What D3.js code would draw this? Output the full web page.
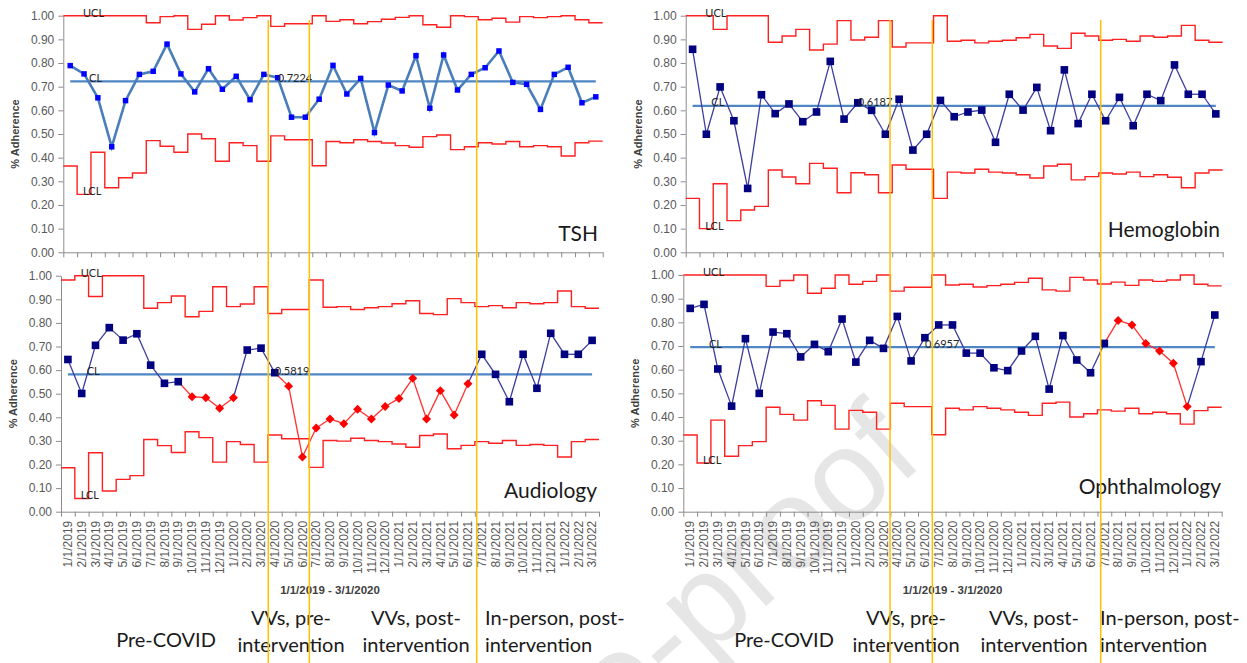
<!DOCTYPE html>
<html>
<head>
<meta charset="utf-8">
<script src="https://cdn.jsdelivr.net/npm/d3@7"></script>
<style>
  body { margin: 0; background: #fff; }
  svg { display: block; }
</style>
</head>
<body>
<svg id="chart" width="1247" height="663"></svg>
<script>
// months shown on the x axis
const months = [
  "1/1/2019", "2/1/2019", "3/1/2019", "4/1/2019", "5/1/2019", "6/1/2019", "7/1/2019", "8/1/2019",
  "9/1/2019", "10/1/2019", "11/1/2019", "12/1/2019", "1/1/2020", "2/1/2020", "3/1/2020", "4/1/2020",
  "5/1/2020", "6/1/2020", "7/1/2020", "8/1/2020", "9/1/2020", "10/1/2020", "11/1/2020", "12/1/2020",
  "1/1/2021", "2/1/2021", "3/1/2021", "4/1/2021", "5/1/2021", "6/1/2021", "7/1/2021", "8/1/2021",
  "9/1/2021", "10/1/2021", "11/1/2021", "12/1/2021", "1/1/2022", "2/1/2022", "3/1/2022"
];
const yTicks = [0, 0.1, 0.2, 0.3, 0.4, 0.5, 0.6, 0.7, 0.8, 0.9, 1.0];

// TSH
const tshCL = 0.7224;
const tshValues = [0.789, 0.754, 0.653, 0.446, 0.641, 0.752, 0.765, 0.880, 0.754, 0.678, 0.776, 0.689, 0.744, 0.645, 0.752, 0.738, 0.571, 0.571, 0.647, 0.790, 0.669, 0.735, 0.506, 0.707, 0.682, 0.831, 0.609, 0.834, 0.686, 0.752, 0.780, 0.851, 0.718, 0.710, 0.604, 0.752, 0.782, 0.632, 0.657];
const tshUCL = [1, 1, 1, 1, 1, 1, 0.970, 0.996, 1, 0.942, 0.964, 1, 0.982, 0.992, 1, 0.955, 0.966, 0.966, 1, 0.976, 0.983, 0.966, 0.975, 0.985, 0.993, 1, 0.962, 0.951, 1, 0.996, 0.983, 0.989, 0.973, 0.996, 0.992, 0.996, 1, 0.983, 0.970];
const tshLCL = [0.365, 0.245, 0.423, 0.273, 0.315, 0.335, 0.472, 0.448, 0.423, 0.500, 0.480, 0.385, 0.463, 0.451, 0.385, 0.492, 0.476, 0.476, 0.366, 0.468, 0.463, 0.476, 0.468, 0.462, 0.451, 0.444, 0.489, 0.496, 0.434, 0.446, 0.463, 0.458, 0.468, 0.446, 0.451, 0.446, 0.407, 0.463, 0.470];
const tshSignals = [];

// Hemoglobin
const hgbCL = 0.6187;
const hgbValues = [0.858, 0.499, 0.699, 0.556, 0.270, 0.666, 0.586, 0.627, 0.552, 0.593, 0.807, 0.563, 0.632, 0.600, 0.499, 0.647, 0.432, 0.499, 0.642, 0.573, 0.593, 0.601, 0.465, 0.668, 0.601, 0.697, 0.514, 0.771, 0.544, 0.668, 0.556, 0.655, 0.535, 0.668, 0.641, 0.792, 0.668, 0.668, 0.585];
const hgbUCL = [1, 1, 0.942, 1, 1, 1, 0.888, 0.914, 0.942, 0.855, 0.880, 0.979, 0.897, 0.909, 0.979, 0.868, 0.885, 0.885, 1, 0.892, 0.896, 0.885, 0.892, 0.896, 0.907, 0.921, 0.872, 0.862, 0.926, 0.914, 0.896, 0.900, 0.892, 0.914, 0.909, 0.914, 0.959, 0.896, 0.888];
const hgbLCL = [0.228, 0.100, 0.290, 0.134, 0.179, 0.194, 0.348, 0.318, 0.290, 0.376, 0.355, 0.252, 0.336, 0.328, 0.252, 0.369, 0.351, 0.351, 0.228, 0.339, 0.335, 0.351, 0.339, 0.335, 0.328, 0.314, 0.365, 0.372, 0.306, 0.320, 0.335, 0.331, 0.339, 0.320, 0.328, 0.317, 0.273, 0.335, 0.348];
const hgbSignals = [];

// Audiology
const audCL = 0.5819;
const audValues = [0.645, 0.501, 0.705, 0.780, 0.727, 0.754, 0.621, 0.544, 0.551, 0.487, 0.483, 0.438, 0.483, 0.685, 0.693, 0.589, 0.532, 0.232, 0.355, 0.393, 0.373, 0.434, 0.393, 0.446, 0.480, 0.565, 0.393, 0.513, 0.410, 0.542, 0.667, 0.582, 0.466, 0.667, 0.523, 0.756, 0.667, 0.667, 0.726];
const audUCL = [0.982, 1, 0.912, 1, 1, 1, 0.862, 0.886, 0.914, 0.826, 0.849, 0.953, 0.869, 0.880, 0.953, 0.840, 0.857, 0.857, 0.982, 0.866, 0.869, 0.857, 0.864, 0.869, 0.881, 0.894, 0.840, 0.835, 0.903, 0.886, 0.869, 0.873, 0.864, 0.886, 0.881, 0.886, 0.935, 0.869, 0.862];
const audLCL = [0.186, 0.056, 0.250, 0.088, 0.137, 0.153, 0.306, 0.280, 0.251, 0.339, 0.314, 0.210, 0.297, 0.285, 0.210, 0.325, 0.309, 0.309, 0.188, 0.302, 0.299, 0.311, 0.302, 0.297, 0.287, 0.273, 0.323, 0.329, 0.267, 0.281, 0.297, 0.290, 0.302, 0.281, 0.285, 0.281, 0.232, 0.297, 0.306];
const audSignals = [9, 10, 11, 12, 16, 17, 18, 19, 20, 21, 22, 23, 24, 25, 26, 27, 28, 29];

// Ophthalmology
const ophCL = 0.6957;
const ophValues = [0.859, 0.876, 0.603, 0.446, 0.731, 0.500, 0.759, 0.752, 0.654, 0.707, 0.676, 0.814, 0.632, 0.724, 0.690, 0.825, 0.637, 0.735, 0.789, 0.789, 0.670, 0.670, 0.608, 0.596, 0.679, 0.741, 0.518, 0.744, 0.641, 0.587, 0.711, 0.808, 0.789, 0.711, 0.679, 0.627, 0.444, 0.634, 0.831];
const ophUCL = [1, 1, 1, 1, 1, 1, 0.952, 0.977, 1, 0.923, 0.944, 1, 0.961, 0.973, 1, 0.932, 0.948, 0.948, 1, 0.958, 0.961, 0.949, 0.955, 0.961, 0.969, 0.986, 0.937, 0.932, 0.990, 0.979, 0.962, 0.970, 0.956, 0.979, 0.973, 0.979, 1, 0.961, 0.954];
const ophLCL = [0.324, 0.206, 0.387, 0.234, 0.279, 0.296, 0.441, 0.411, 0.387, 0.469, 0.449, 0.349, 0.428, 0.420, 0.349, 0.458, 0.444, 0.444, 0.325, 0.437, 0.430, 0.444, 0.437, 0.430, 0.420, 0.407, 0.458, 0.463, 0.400, 0.414, 0.430, 0.425, 0.437, 0.414, 0.420, 0.414, 0.370, 0.427, 0.441];
const ophSignals = [31, 32, 33, 34, 35, 36];

// phase boundaries (in month units) and the phase captions under each column
const phaseBreaksLeft = [14.82, 17.79, 29.89];
const phaseBreaksRight = [14.84, 17.91, 30.14];
const phaseCaptions = [["Pre-COVID"], ["VVs, pre-", "intervention"], ["VVs, post-", "intervention"], ["In-person, post-", "intervention"]];
const dateRangeTitle = "1/1/2019 - 3/1/2020";

const svg = d3.select("#chart");
const LABEL_FONT = "Lato, 'Liberation Sans', sans-serif";
const AXIS_FONT = "'Liberation Sans', Arial, sans-serif";

// watermark, faint, behind everything
svg.append("text")
  .attr("transform", "translate(926,462) rotate(-42)")
  .attr("text-anchor", "end")
  .attr("font-family", AXIS_FONT)
  .attr("font-size", 130)
  .attr("fill", "#e6e6e6")
  .text("Journal Pre-proof");

const panels = [
  { title: "TSH", values: tshValues, ucl: tshUCL, lcl: tshLCL, cl: tshCL, signals: tshSignals,
    left: 63.3, right: 602.7, top: 15.7, bottom: 252.3, clAt: 15, dates: false, thick: true,
    titleX: 598, titleY: 241 },
  { title: "Hemoglobin", values: hgbValues, ucl: hgbUCL, lcl: hgbLCL, cl: hgbCL, signals: hgbSignals,
    left: 685.7, right: 1222.7, top: 15.7, bottom: 252.3, clAt: 12, dates: false, thick: false,
    titleX: 1220, titleY: 237 },
  { title: "Audiology", values: audValues, ucl: audUCL, lcl: audLCL, cl: audCL, signals: audSignals,
    left: 61, right: 599, top: 275.7, bottom: 511.7, clAt: 15, dates: true, thick: false,
    titleX: 597, titleY: 498 },
  { title: "Ophthalmology", values: ophValues, ucl: ophUCL, lcl: ophLCL, cl: ophCL, signals: ophSignals,
    left: 683.3, right: 1221.7, top: 275, bottom: 511.7, clAt: 17, dates: true, thick: false,
    titleX: 1221, titleY: 494 }
];

function drawPanel(p) {
  const g = svg.append("g");
  const n = months.length;
  const xl = d3.scaleLinear().domain([0, n]).range([p.left, p.right]);
  const xc = i => xl(i + 0.5);
  const y = d3.scaleLinear().domain([0, 1]).range([p.bottom, p.top]);

  // axes
  const ya = g.append("g")
    .attr("transform", "translate(" + p.left + ",0)")
    .call(d3.axisLeft(y).tickValues(yTicks).tickFormat(d3.format(".2f")).tickSize(5).tickSizeOuter(0).tickPadding(4));
  ya.attr("font-family", AXIS_FONT).attr("font-size", 12);
  ya.selectAll("text").attr("fill", "#595959");

  const xa = g.append("g")
    .attr("transform", "translate(0," + p.bottom + ")")
    .call(d3.axisBottom(xl).tickValues(d3.range(n + 1)).tickFormat("").tickSize(5).tickSizeOuter(0));
  g.selectAll(".domain, .tick line").attr("stroke", "#8c8c8c");

  if (p.dates) {
    g.append("g").selectAll("text")
      .data(months)
      .join("text")
      .attr("transform", (d, i) => "translate(" + xc(i) + "," + (p.bottom + 9) + ") rotate(-90)")
      .attr("text-anchor", "end")
      .attr("dy", "0.35em")
      .attr("font-family", AXIS_FONT)
      .attr("font-size", 12)
      .attr("fill", "#595959")
      .text(d => d);
    g.append("text")
      .attr("x", (p.left + p.right) / 2)
      .attr("y", p.bottom + 82)
      .attr("text-anchor", "middle")
      .attr("font-family", AXIS_FONT)
      .attr("font-weight", "bold")
      .attr("font-size", 11.5)
      .attr("fill", "#404040")
      .text(dateRangeTitle);
  }

  g.append("text")
    .attr("transform", "translate(" + (p.left - 44) + "," + ((p.top + p.bottom) / 2) + ") rotate(-90)")
    .attr("text-anchor", "middle")
    .attr("font-family", AXIS_FONT)
    .attr("font-weight", "bold")
    .attr("font-size", 11)
    .attr("fill", "#404040")
    .text("% Adherence");

  // control limits, one step per month
  const step = d3.line().curve(d3.curveStepAfter).x(d => xl(d[0])).y(d => y(d[1]));
  const limitPts = arr => arr.map((v, i) => [i, v]).concat([[arr.length, arr[arr.length - 1]]]);
  [p.ucl, p.lcl].forEach(arr => {
    g.append("path")
      .attr("d", step(limitPts(arr)))
      .attr("fill", "none")
      .attr("stroke", "#ff2020")
      .attr("stroke-width", 1.4);
  });

  // centre line
  g.append("line")
    .attr("x1", xc(0)).attr("x2", xc(n - 1))
    .attr("y1", y(p.cl)).attr("y2", y(p.cl))
    .attr("stroke", "#4f86c4")
    .attr("stroke-width", 2.3);

  // series
  const sig = new Set(p.signals);
  if (p.thick) {
    g.append("path")
      .attr("d", d3.line().x((d, i) => xc(i)).y(d => y(d))(p.values))
      .attr("fill", "none")
      .attr("stroke", "#4a7ebb")
      .attr("stroke-width", 2.6);
  } else {
    g.append("g").selectAll("line")
      .data(p.values.slice(1))
      .join("line")
      .attr("x1", (d, i) => xc(i)).attr("y1", (d, i) => y(p.values[i]))
      .attr("x2", (d, i) => xc(i + 1)).attr("y2", d => y(d))
      .attr("stroke", (d, i) => sig.has(i + 1) ? "#ff3030" : "#3d3d9e")
      .attr("stroke-width", 1.3);
  }

  const square = d3.symbol().type(d3.symbolSquare);
  g.append("g").selectAll("path")
    .data(p.values)
    .join("path")
    .attr("transform", (d, i) => "translate(" + xc(i) + "," + y(d) + ")" + (sig.has(i) ? " rotate(45)" : ""))
    .attr("d", (d, i) => square.size(p.thick ? 30 : (sig.has(i) ? 40 : 58))())
    .attr("fill", (d, i) => sig.has(i) ? "#ff0000" : (p.thick ? "#0000ff" : "#000080"));

  // limit labels
  const lab = (x, yy, t) => g.append("text")
    .attr("x", x).attr("y", yy)
    .attr("font-family", LABEL_FONT)
    .attr("font-size", 11)
    .attr("fill", "#262626")
    .text(t);
  lab(xc(1) - 1, y(p.ucl[1]) + 1, "UCL");
  lab(xc(1) - 1, y(p.lcl[1]) + 1, "LCL");
  lab(xc(1) + 5, y(p.cl) + 0.5, "CL");
  lab(xc(p.clAt), y(p.cl) + 0.5, p.cl.toFixed(4));

  // panel title
  g.append("text")
    .attr("x", p.titleX).attr("y", p.titleY)
    .attr("text-anchor", "end")
    .attr("font-family", LABEL_FONT)
    .attr("font-size", 21)
    .attr("fill", "#1a1a1a")
    .text(p.title);
}

panels.forEach(drawPanel);

// phase captions under each column
function captions(centres, startX) {
  const g = svg.append("g")
    .attr("font-family", LABEL_FONT)
    .attr("font-size", 20)
    .attr("fill", "#1a1a1a");
  phaseCaptions.forEach((lines, k) => {
    const last = k === phaseCaptions.length - 1;
    if (lines.length === 1) {
      g.append("text").attr("x", centres[k]).attr("y", 647)
        .attr("text-anchor", "middle").text(lines[0]);
    } else {
      lines.forEach((t, j) => {
        g.append("text")
          .attr("x", last ? startX : centres[k])
          .attr("y", j === 0 ? 625 : 652)
          .attr("text-anchor", last ? "start" : "middle")
          .text(t);
      });
    }
  });
}
captions([166, 291, 416], 485);
captions([784, 906, 1034], 1100);

// phase boundary markers across both panels of a column
function phaseLines(p, breaks) {
  const xl = d3.scaleLinear().domain([0, months.length]).range([p.left, p.right]);
  svg.append("g").selectAll("line")
    .data(breaks)
    .join("line")
    .attr("x1", d => xl(d)).attr("x2", d => xl(d))
    .attr("y1", 20).attr("y2", 663)
    .attr("stroke", "#ffc000")
    .attr("stroke-width", 1.5);
}
phaseLines(panels[0], phaseBreaksLeft);
phaseLines(panels[1], phaseBreaksRight);
</script>
</body>
</html>
